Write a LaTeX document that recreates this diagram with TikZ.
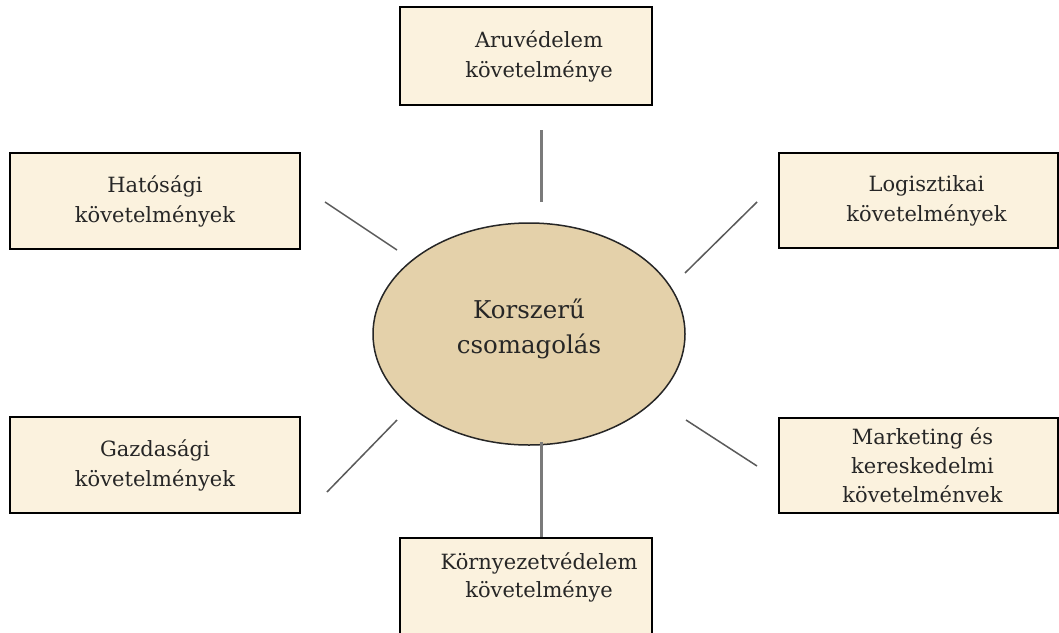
\documentclass[tikz,border=0pt]{standalone}
\usepackage{fontspec}
\newfontfamily\dfont{DejaVu Serif}
\usetikzlibrary{shapes.geometric}
\definecolor{boxfill}{HTML}{FBF2DE}
\definecolor{ellfill}{HTML}{E4D1AA}
\definecolor{linegray}{HTML}{5A5A5A}
\definecolor{vgray}{HTML}{7A7A7A}
\newcommand\myindentby[1]{\hspace*{#1}}
\tikzset{
  reqbox/.style={draw=black, line width=1.8pt, fill=boxfill, rectangle, inner sep=0pt,
     align=center, font=\dfont\fontsize{21}{30}\selectfont, text=black!85},
  centreell/.style={draw=black!85, line width=1.5pt, fill=ellfill, ellipse, inner sep=0pt,
     align=center, font=\dfont\fontsize{24.5}{35}\selectfont, text=black!85},
  spoke/.style={draw=linegray, line width=1.5pt},
  vspoke/.style={draw=vgray, line width=3pt},
}
\begin{document}
\begin{tikzpicture}[x=1pt,y=-1pt]
\useasboundingbox (0,0) rectangle (1059,632);
\clip (0,0) rectangle (1059,632);
\fill[white] (0,0) rectangle (1059,632);
\node[reqbox, minimum width=252pt, minimum height=98pt] (aru) at (526,56) {\myindentby{26pt}Aruvédelem\\\myindentby{26pt}követelménye};
\node[reqbox, minimum width=290pt, minimum height=96pt] (hat) at (155,201) {Hatósági\\követelmények};
\node[reqbox, minimum width=279pt, minimum height=95pt] (log) at (918.5,200.5) {\myindentby{16pt}Logisztikai\\\myindentby{16pt}követelmények};
\node[reqbox, minimum width=290pt, minimum height=96pt] (gaz) at (155,465) {Gazdasági\\követelmények};
\node[reqbox, minimum width=279pt, minimum height=95pt, font=\dfont\fontsize{21}{29}\selectfont] (mar) at (918.5,465.5) {\myindentby{8pt}Marketing és\\\myindentby{8pt}kereskedelmi\\\myindentby{8pt}követelménvek};
\node[reqbox, minimum width=252pt, minimum height=98pt, anchor=north, font=\dfont\fontsize{21}{28}\selectfont] (kor) at (526,537) {\myindentby{26pt}Környezetvédelem\\\myindentby{26pt}követelménye\\[-4pt]\mbox{}};
\node[centreell, minimum width=312pt, minimum height=222pt] (cs) at (529,334) {Korszerű\\csomagolás\\[-19pt]\mbox{}};
% spoke end points
\coordinate (a1) at (541,130); \coordinate (a2) at (541,202);
\coordinate (k1) at (541,442); \coordinate (k2) at (541,537);
\coordinate (h1) at (325,202); \coordinate (h2) at (397,250);
\coordinate (l1) at (757,202); \coordinate (l2) at (685,273);
\coordinate (g1) at (327,492); \coordinate (g2) at (397,420);
\coordinate (m1) at (757,466); \coordinate (m2) at (686,420);
\draw[vspoke] (a1) -- (a2);
\draw[vspoke] (k1) -- (k2);
\draw[spoke] (h1) -- (h2);
\draw[spoke] (l1) -- (l2);
\draw[spoke] (g1) -- (g2);
\draw[spoke] (m1) -- (m2);
\end{tikzpicture}
\end{document}
